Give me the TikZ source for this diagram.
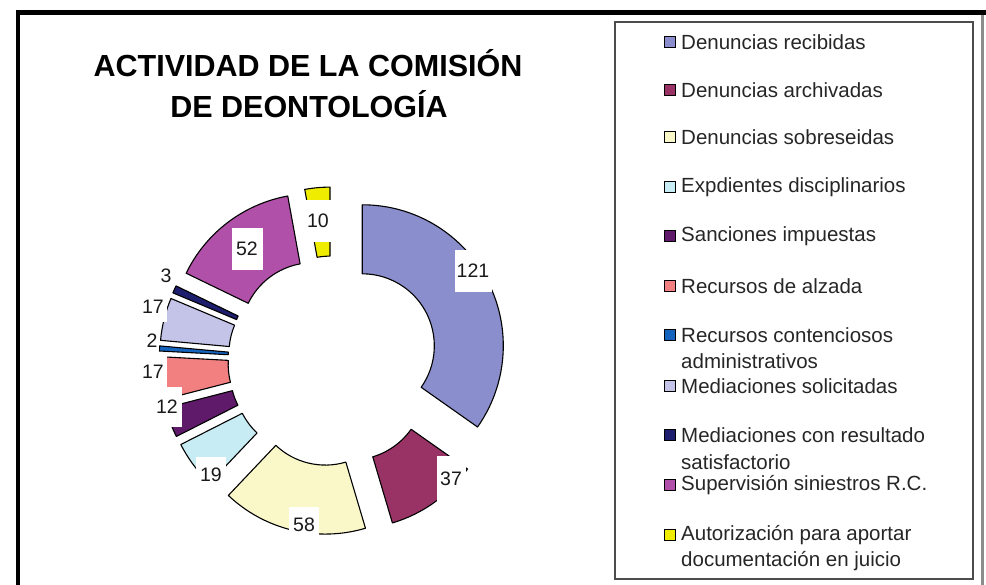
\documentclass[tikz,border=0pt]{standalone}
\usepackage{fontspec}
\setmainfont{Liberation Sans}
\definecolor{cA}{RGB}{138,142,204}
\definecolor{cB}{RGB}{153,51,102}
\definecolor{cC}{RGB}{250,248,200}
\definecolor{cD}{RGB}{200,236,244}
\definecolor{cE}{RGB}{96,26,106}
\definecolor{cF}{RGB}{242,128,128}
\definecolor{cG}{RGB}{20,100,190}
\definecolor{cH}{RGB}{196,196,232}
\definecolor{cI}{RGB}{30,30,110}
\definecolor{cJ}{RGB}{176,80,168}
\definecolor{cK}{RGB}{240,236,0}
\newcommand\donutslice[3]{%
  \pgfmathsetmacro\midang{(#2+#3)/2}%
  \begin{scope}[shift={(\midang:33)}]
    \filldraw[slice, fill=#1] (#2:141) arc[start angle=#2, end angle=#3, radius=141]
      -- (#3:72) arc[start angle=#3, end angle=#2, radius=72] -- cycle;
  \end{scope}}
\begin{document}
\begin{tikzpicture}[x=1pt,y=1pt,
  slice/.style={draw=black, line width=1.1pt, line join=round},
  lbl/.style={fill=white, inner sep=0pt, text=black!90, font=\fontsize{19.5}{20}\selectfont},
  legtext/.style={anchor=west, inner sep=0pt, text=black!85, font=\fontsize{20.5}{24}\selectfont},
  legbox/.style={draw=black, line width=0.8pt, minimum size=11pt, inner sep=0pt},
  titletext/.style={inner sep=0pt, font=\fontsize{30.5}{36}\bfseries\selectfont}]
\useasboundingbox (0,0) rectangle (986,585);
% frame
\coordinate (ftl) at (16,572.5);
\coordinate (ftr) at (986,572.5);
\coordinate (flt) at (18,575);
\coordinate (flb) at (18,0);
\coordinate (frt) at (982,570);
\coordinate (frb) at (982,0);
\draw[line width=5pt] (ftl) -- (ftr);
\draw[line width=4pt] (flt) -- (flb);
\draw[black!45, line width=3pt] (frt) -- (frb);
% title
\node[titletext, anchor=base] (t1) at (308,508) {ACTIVIDAD DE LA COMISIÓN};
\node[titletext, anchor=base] (t2) at (309,467) {DE DEONTOLOGÍA};
% donut
\begin{scope}[shift={(333,224)}]
  \donutslice{cA}{90}{-35.17}
  \donutslice{cB}{-35.17}{-73.45}
  \donutslice{cC}{-73.45}{-133.45}
  \donutslice{cD}{-133.45}{-153.10}
  \donutslice{cE}{-153.10}{-165.52}
  \donutslice{cF}{-165.52}{-183.10}
  \donutslice{cG}{-183.10}{-185.17}
  \donutslice{cH}{-185.17}{-202.76}
  \donutslice{cI}{-202.76}{-205.86}
  \donutslice{cJ}{-205.86}{-259.66}
  \donutslice{cK}{-259.66}{-270}
\end{scope}
% data labels
\node[lbl, minimum width=37, minimum height=42] (l121) at (473,314) {121};
\node[lbl, minimum width=29, minimum height=46] (l37) at (451,106) {37};
\node[lbl, minimum width=30, minimum height=36] (l58) at (304,60) {58};
\node[lbl, minimum width=30, minimum height=36] (l19) at (211,110) {19};
\node[lbl, minimum width=30, minimum height=40] (l12) at (167,178) {12};
\node[lbl, minimum width=28, minimum height=36] (l17a) at (153,213) {17};
\node[lbl, minimum width=14, minimum height=20] (l2) at (152,244) {2};
\node[lbl, minimum width=28, minimum height=30] (l17b) at (153,278) {17};
\node[lbl, minimum width=14, minimum height=20] (l3) at (166,309) {3};
\node[lbl, minimum width=31, minimum height=42] (l52) at (247,336) {52};
\node[lbl, minimum width=30, minimum height=42] (l10) at (318,364) {10};
% legend
\coordinate (lga) at (615,563);
\coordinate (lgb) at (973,6);
\draw[black!70, line width=2pt] (lga) rectangle (lgb);
\node[legbox, fill=cA] (m1) at (670,543) {};
\node[legtext] (e1) at (681,543) {Denuncias recibidas};
\node[legbox, fill=cB] (m2) at (670,495) {};
\node[legtext] (e2) at (681,495) {Denuncias archivadas};
\node[legbox, fill=cC] (m3) at (670,448) {};
\node[legtext] (e3) at (681,448) {Denuncias sobreseidas};
\node[legbox, fill=cD] (m4) at (670,398) {};
\node[legtext] (e4) at (681,398) {Expdientes disciplinarios};
\node[legbox, fill=cE] (m5) at (670,349) {};
\node[legtext] (e5) at (681,349) {Sanciones impuestas};
\node[legbox, fill=cF] (m6) at (670,299) {};
\node[legtext] (e6) at (681,299) {Recursos de alzada};
\node[legbox, fill=cG] (m7) at (670,250) {};
\node[legtext] (e7) at (681,250) {Recursos contenciosos};
\node[legtext] (e7b) at (681,224) {administrativos};
\node[legbox, fill=cH] (m8) at (670,199) {};
\node[legtext] (e8) at (681,199) {Mediaciones solicitadas};
\node[legbox, fill=cI] (m9) at (670,150) {};
\node[legtext] (e9) at (681,150) {Mediaciones con resultado};
\node[legtext] (e9b) at (681,123) {satisfactorio};
\node[legbox, fill=cJ] (m10) at (670,100) {};
\node[legtext] (e10) at (681,100) {Supervisión siniestros R.C.};
\node[legbox, fill=cK] (m11) at (670,50) {};
\node[legtext] (e11) at (681,50) {Autorización para aportar};
\node[legtext] (e11b) at (681,24) {documentación en juicio};
\end{tikzpicture}
\end{document}
